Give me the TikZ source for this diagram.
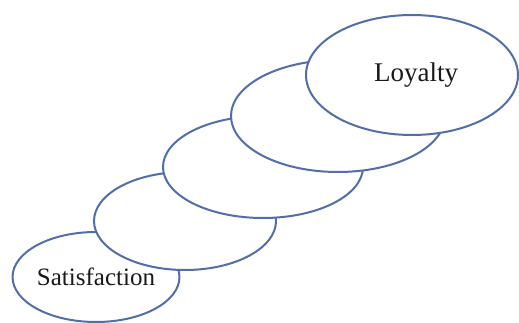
\documentclass[tikz,border=0pt]{standalone}
\usepackage{fontspec}
\setmainfont{Liberation Serif}
\usetikzlibrary{shapes.geometric}
\definecolor{ringblue}{RGB}{82,110,168}
\tikzset{
  ring/.style={ellipse, draw=ringblue, line width=2pt, fill=white, inner sep=0pt, text=black!90},
}
\begin{document}
\begin{tikzpicture}[x=1pt,y=-1pt]
\useasboundingbox (0,0) rectangle (519,323);
% stacked ellipses, drawn from the bottom one up so each overlaps the previous
\node[ring, minimum width=166pt, minimum height=90pt, font=\fontsize{25}{25}\selectfont] (s1) at (96,277) {Satisfaction};
\node[ring, minimum width=182pt, minimum height=98pt] (s2) at (185,221) {};
\node[ring, minimum width=200pt, minimum height=102pt] (s3) at (263,167) {};
\node[ring, minimum width=214pt, minimum height=112pt] (s4) at (338,116) {};
\node[ring, minimum width=212pt, minimum height=120pt, font=\fontsize{27}{27}\selectfont] (s5) at (412,75) {\hspace*{8pt}\raisebox{-2pt}{Loyalty}};
\end{tikzpicture}
\end{document}
